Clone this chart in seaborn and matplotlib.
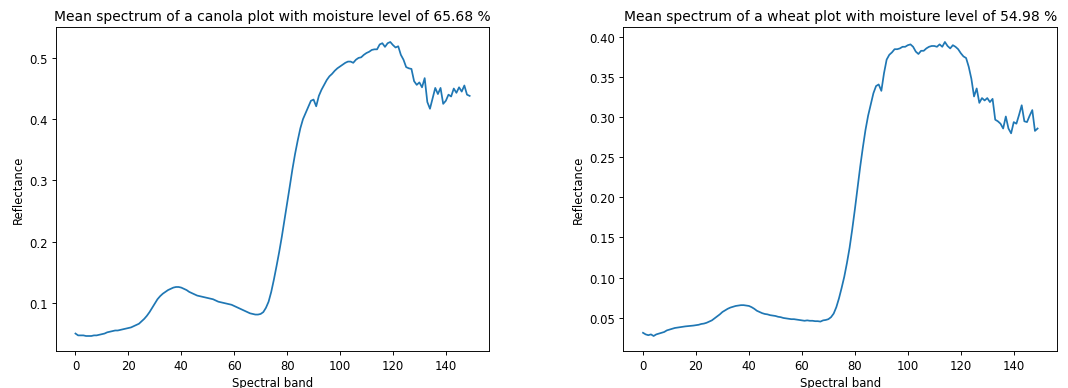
import matplotlib
matplotlib.use("Agg")
import matplotlib.pyplot as plt
import seaborn as sns
import numpy as np
import pandas as pd

bands = list(range(150))

canola = [
    0.050, 0.047, 0.047, 0.047, 0.046, 0.046, 0.046, 0.047, 0.047, 0.048,
    0.049, 0.050, 0.052, 0.053, 0.054, 0.055, 0.055, 0.056, 0.057, 0.058,
    0.059, 0.060, 0.062, 0.064, 0.066, 0.070, 0.074, 0.079, 0.085, 0.092,
    0.099, 0.106, 0.111, 0.115, 0.118, 0.121, 0.123, 0.125, 0.126, 0.126,
    0.125, 0.123, 0.121, 0.118, 0.116, 0.114, 0.112, 0.111, 0.110, 0.109,
    0.108, 0.107, 0.106, 0.104, 0.102, 0.101, 0.100, 0.099, 0.098, 0.097,
    0.095, 0.093, 0.091, 0.089, 0.087, 0.085, 0.083, 0.082, 0.081, 0.081,
    0.082, 0.085, 0.092, 0.102, 0.118, 0.138, 0.160, 0.183, 0.208, 0.235,
    0.262, 0.290, 0.318, 0.343, 0.365, 0.385, 0.400, 0.410, 0.420, 0.430,
    0.432, 0.421, 0.438, 0.448, 0.456, 0.464, 0.470, 0.474, 0.479, 0.483,
    0.486, 0.489, 0.492, 0.494, 0.494, 0.492, 0.497, 0.500, 0.501, 0.505,
    0.508, 0.510, 0.513, 0.514, 0.514, 0.522, 0.524, 0.518, 0.524, 0.526,
    0.521, 0.517, 0.519, 0.505, 0.497, 0.485, 0.483, 0.482, 0.462, 0.456,
    0.460, 0.452, 0.467, 0.428, 0.417, 0.434, 0.451, 0.441, 0.451, 0.425,
    0.430, 0.440, 0.437, 0.450, 0.443, 0.452, 0.445, 0.455, 0.440, 0.438,
]

wheat = [
    0.031, 0.029, 0.028, 0.029, 0.027, 0.029, 0.030, 0.031, 0.032, 0.034,
    0.035, 0.036, 0.037, 0.0375, 0.038, 0.0385, 0.039, 0.0393, 0.0397, 0.040,
    0.0405, 0.041, 0.042, 0.0425, 0.0435, 0.045, 0.0465, 0.049, 0.0515, 0.054,
    0.057, 0.059, 0.061, 0.0625, 0.0635, 0.0645, 0.065, 0.0655, 0.0655, 0.065,
    0.0645, 0.063, 0.061, 0.0585, 0.057, 0.0555, 0.0545, 0.054, 0.053, 0.0525,
    0.052, 0.051, 0.0505, 0.0495, 0.049, 0.0485, 0.048, 0.048, 0.0475, 0.047,
    0.0465, 0.046, 0.0465, 0.046, 0.046, 0.0455, 0.0455, 0.045, 0.0465, 0.047,
    0.048, 0.0505, 0.055, 0.063, 0.074, 0.087, 0.101, 0.118, 0.137, 0.160,
    0.185, 0.212, 0.238, 0.262, 0.284, 0.302, 0.316, 0.330, 0.339, 0.341,
    0.333, 0.355, 0.372, 0.378, 0.381, 0.385, 0.385, 0.386, 0.388, 0.388,
    0.390, 0.391, 0.388, 0.382, 0.379, 0.383, 0.383, 0.386, 0.388, 0.389,
    0.389, 0.388, 0.391, 0.388, 0.394, 0.389, 0.386, 0.390, 0.388, 0.385,
    0.380, 0.376, 0.374, 0.363, 0.348, 0.326, 0.336, 0.318, 0.324, 0.321,
    0.324, 0.319, 0.323, 0.297, 0.295, 0.292, 0.286, 0.301, 0.286, 0.280,
    0.294, 0.292, 0.303, 0.315, 0.295, 0.294, 0.302, 0.309, 0.283, 0.286,
]

titles = [
    "Mean spectrum of a canola plot with moisture level of 65.68 %",
    "Mean spectrum of a wheat plot with moisture level of 54.98 %",
]
xlabel = "Spectral band"
ylabel = "Reflectance"

DPI = 83.44
fig = plt.figure(figsize=(1068 / DPI, 389 / DPI), dpi=DPI)
ax1 = fig.add_axes([0.0522, 0.0959, 0.406, 0.8314])
ax2 = fig.add_axes([0.5836, 0.0959, 0.4064, 0.8314])

for ax, vals, title in zip([ax1, ax2], [canola, wheat], titles):
    df = pd.DataFrame({"band": bands, "refl": vals})
    sns.lineplot(data=df, x="band", y="refl", ax=ax, color="#1f77b4", linewidth=1.5)
    ax.set_title(title, fontsize=12)
    ax.set_xlabel(xlabel, fontsize=10)
    ax.set_ylabel(ylabel, fontsize=10)
    ax.set_xticks([0, 20, 40, 60, 80, 100, 120, 140])

fig.savefig("out.png", dpi=DPI)
